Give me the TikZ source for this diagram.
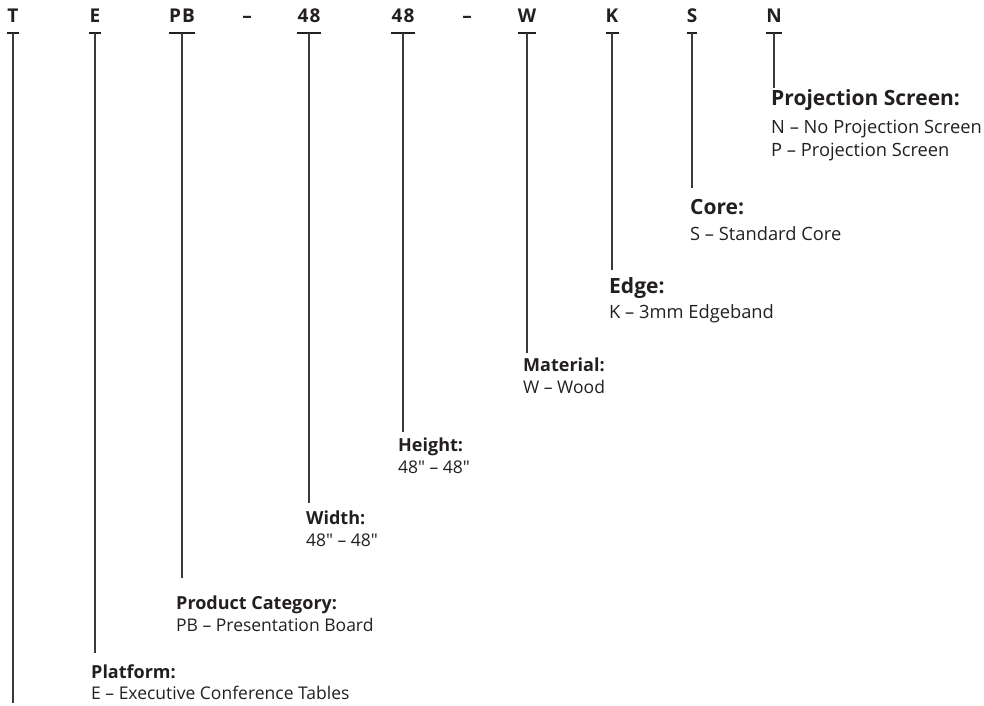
\documentclass[tikz,border=0pt]{standalone}
\usepackage{fontspec}
\setmainfont{Open Sans}
\usetikzlibrary{calc}
\definecolor{ink}{HTML}{231F20}
\definecolor{rule}{HTML}{3A3A3A}
\begin{document}
\begin{tikzpicture}[x=1pt,y=-1pt,
  code/.style={font=\fontsize{19}{22}\selectfont\bfseries\addfontfeature{LetterSpace=6}, text=ink, inner sep=0pt, anchor=base},
  ttl/.style={font=\fontsize{18}{21}\selectfont\bfseries, text=ink, inner sep=0pt, anchor=base west},
  bigttl/.style={ttl, font=\fontsize{21}{24}\selectfont\bfseries},
  body/.style={font=\fontsize{17.5}{20}\selectfont, text=ink, inner sep=0pt, anchor=base west},
  bigbody/.style={body, font=\fontsize{18.3}{21}\selectfont},
  uline/.style={draw=ink, line width=2.4pt},
  lead/.style={draw=rule, line width=1.3pt}]
\useasboundingbox (0,0) rectangle (984,705);
% code letters
\node[code] (cT) at (13,22) {T};
\node[code] (cE) at (95,22) {E};
\node[code] (cPB) at (182,22) {PB};
\node[code] (d1) at (247,22) {–};
\node[code] (cW1) at (309,22) {48};
\node[code] (cH1) at (403,22) {48};
\node[code] (d2) at (467,22) {–};
\node[code] (cW) at (527,22) {W};
\node[code] (cK) at (612,22) {K};
\node[code] (cS) at (692,22) {S};
\node[code] (cN) at (774,22) {N};
% underlines and leader start points
\foreach \n in {cT,cE,cPB,cW1,cH1,cW,cK,cS,cN}{
  \draw[uline] ([yshift=-11pt]\n.base west) coordinate (\n l) -- ([yshift=-11pt]\n.base east) coordinate (\n r);
  \coordinate (\n m) at ($(\n l)!0.5!(\n r)$);
}
% labels
\node[bigttl] (tN) at (771,105) {Projection Screen:};
\node[bigbody] (bN1) at (771,133) {N – No Projection Screen};
\node[bigbody] (bN2) at (771,156) {P – Projection Screen};
\node[bigttl] (tS) at (690,214) {Core:};
\node[bigbody] (bS) at (690,240) {S – Standard Core};
\node[bigttl] (tK) at (609,293) {Edge:};
\node[bigbody] (bK) at (609,318) {K – 3mm Edgeband};
\node[ttl] (tW) at (523,371) {Material:};
\node[body] (bW) at (523,393) {W – Wood};
\node[ttl] (tH) at (398,451) {Height:};
\node[body] (bH) at (398,473) {48″ – 48″};
\node[ttl] (tWd) at (306,524) {Width:};
\node[body] (bWd) at (306,546) {48″ – 48″};
\node[ttl] (tP) at (176,609) {Product Category:};
\node[body] (bP) at (176,631) {PB – Presentation Board};
\node[ttl] (tE) at (91,678) {Platform:};
\node[body] (bE) at (91,699) {E – Executive Conference Tables};
% leader ends
\coordinate (eN) at (774,88);
\coordinate (eS) at (692,188);
\coordinate (eK) at (612,270);
\coordinate (eW) at (527,353);
\coordinate (eH) at (403,432);
\coordinate (eWd) at (309,503);
\coordinate (eP) at (182,578);
\coordinate (eE) at (95,653);
\coordinate (eT) at (13,703);
\draw[lead] (cNm) -- (cNm |- eN);
\draw[lead] (cSm) -- (cSm |- eS);
\draw[lead] (cKm) -- (cKm |- eK);
\draw[lead] (cWm) -- (cWm |- eW);
\draw[lead] (cH1m) -- (cH1m |- eH);
\draw[lead] (cW1m) -- (cW1m |- eWd);
\draw[lead] (cPBm) -- (cPBm |- eP);
\draw[lead] (cEm) -- (cEm |- eE);
\draw[lead] (cTm) -- (cTm |- eT);
\end{tikzpicture}
\end{document}
